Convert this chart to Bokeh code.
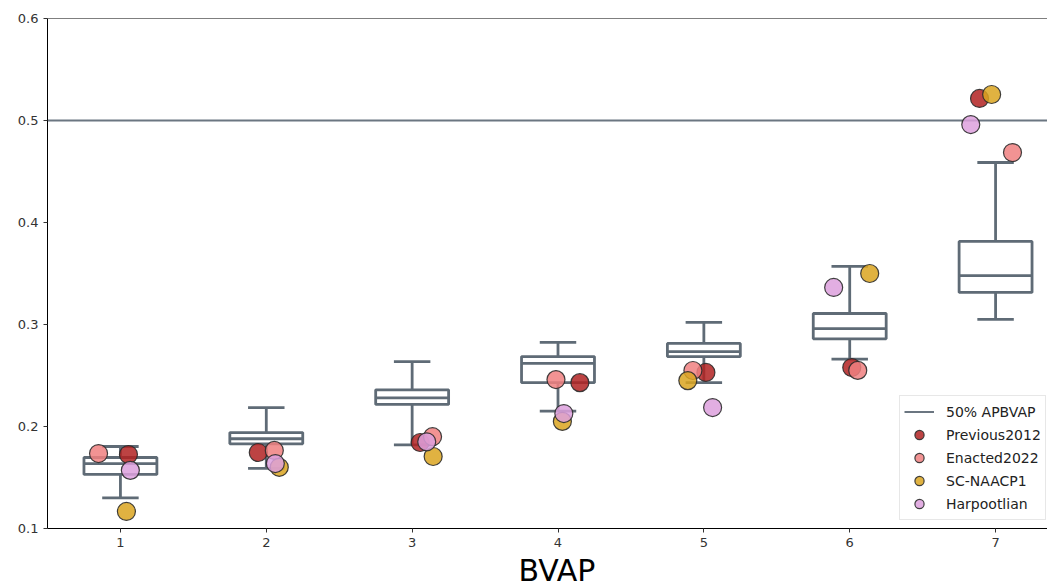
from bokeh.plotting import figure
from bokeh.models import Range1d, FixedTicker, Legend, LegendItem, Span, Div
from bokeh.layouts import column
from bokeh.embed import file_html
from bokeh.resources import INLINE

# ---- data ----
districts = [1, 2, 3, 4, 5, 6, 7]
whisker_lo = [0.130, 0.159, 0.182, 0.215, 0.243, 0.266, 0.305]
q1 = [0.153, 0.183, 0.2216, 0.243, 0.2686, 0.286, 0.3314]
median = [0.1637, 0.188, 0.228, 0.2618, 0.2735, 0.296, 0.348]
q3 = [0.1696, 0.194, 0.236, 0.2686, 0.2814, 0.3108, 0.3814]
whisker_hi = [0.1804, 0.2186, 0.2637, 0.2824, 0.302, 0.3569, 0.4588]

series_names = ["Previous2012", "Enacted2022", "SC-NAACP1", "Harpootlian"]
prev_y = [0.1725, 0.1745, 0.1843, 0.243, 0.253, 0.2578, 0.5216]
prev_jitter = [0.055, -0.055, 0.055, 0.15, 0.014, 0.014, -0.11]
enacted_y = [0.1735, 0.1765, 0.190, 0.246, 0.2549, 0.255, 0.4686]
enacted_jitter = [-0.15, 0.055, 0.14, -0.014, -0.075, 0.055, 0.116]
sc_y = [0.1167, 0.160, 0.1706, 0.205, 0.245, 0.350, 0.5255]
sc_jitter = [0.041, 0.089, 0.144, 0.03, -0.11, 0.137, -0.027]
harp_y = [0.157, 0.1637, 0.185, 0.2127, 0.2186, 0.3363, 0.496]
harp_jitter = [0.068, 0.062, 0.1, 0.04, 0.06, -0.11, -0.17]
threshold = 0.5
threshold_label = "50% APBVAP"
x_label = "BVAP"
y_ticks = [0.1, 0.2, 0.3, 0.4, 0.5, 0.6]

colors = ["#b22222", "#f08080", "#daa520", "#dda0dd"]
box_color = "#5f6b76"
FONT = "DejaVu Sans"

p = figure(width=1047, height=553, output_backend="svg", toolbar_location=None,
           x_range=Range1d(0.5, 7.356), y_range=Range1d(0.1, 0.6),
           min_border_left=47, min_border_right=0, min_border_top=18, min_border_bottom=25)
p.xgrid.visible = False
p.ygrid.visible = False
p.outline_line_color = None
p.background_fill_color = "white"
p.border_fill_color = "white"

for ax in (p.xaxis[0], p.yaxis[0]):
    ax.axis_line_color = "black"
    ax.axis_line_width = 1
    ax.major_tick_in = 0
    ax.major_tick_out = 4
    ax.major_tick_line_color = "#333333"
    ax.minor_tick_line_color = None
    ax.major_label_text_font = FONT
    ax.major_label_text_font_size = "13px"
    ax.major_label_text_color = "#333333"
    ax.major_label_standoff = 5
p.xaxis.ticker = FixedTicker(ticks=districts)
p.yaxis.ticker = FixedTicker(ticks=y_ticks)
p.yaxis.major_label_overrides = {t: f"{t:.1f}" for t in y_ticks}

# top spine
p.add_layout(Span(location=y_ticks[-1], dimension="width", line_color="black", line_width=1))

# ---- boxes ----
bw = 0.5
cw = 0.25
left = [d - bw / 2 for d in districts]
right = [d + bw / 2 for d in districts]
cl = [d - cw / 2 for d in districts]
cr = [d + cw / 2 for d in districts]
lw = 2.8
p.segment(districts, whisker_lo, districts, q1, line_color=box_color, line_width=lw)
p.segment(districts, q3, districts, whisker_hi, line_color=box_color, line_width=lw)
p.segment(cl, whisker_lo, cr, whisker_lo, line_color=box_color, line_width=lw)
p.segment(cl, whisker_hi, cr, whisker_hi, line_color=box_color, line_width=lw)
p.quad(left=left, right=right, bottom=q1, top=q3, fill_color="white",
       line_color=box_color, line_width=lw)
p.segment(left, median, right, median, line_color=box_color, line_width=lw)

# ---- threshold line ----
hl = p.segment([0.5], [threshold], [7.5], [threshold], line_color="#6b7681", line_width=2)

# ---- points ----
ys = [prev_y, enacted_y, sc_y, harp_y]
jit = [prev_jitter, enacted_jitter, sc_jitter, harp_jitter]
items = [LegendItem(label=threshold_label, renderers=[hl])]
for name, yv, jv, c in zip(series_names, ys, jit, colors):
    xs = [d + j for d, j in zip(districts, jv)]
    r = p.scatter(xs, yv, size=18, fill_color=c, fill_alpha=0.85,
                  line_color="#2b2b2b", line_width=1.2, line_alpha=0.9)
    items.append(LegendItem(label=name, renderers=[r]))

legend = Legend(items=items, location=(852, 8), label_text_font=FONT,
                label_text_font_size="14px", label_text_color="#222222",
                glyph_width=30, glyph_height=23, label_height=20, label_standoff=12,
                spacing=0, padding=4, margin=0, border_line_color="#d0d0d0",
                border_line_width=1, background_fill_alpha=0.85)
p.add_layout(legend)

label_div = Div(text=x_label, width=200, height=35, margin=(0, 0, 0, 457),
                styles={"font-family": FONT, "font-size": "30px", "color": "black",
                        "text-align": "center", "width": "200px", "line-height": "35px"})

layout = column(p, label_div, spacing=0)
open("out.html", "w").write(file_html(layout, INLINE))
